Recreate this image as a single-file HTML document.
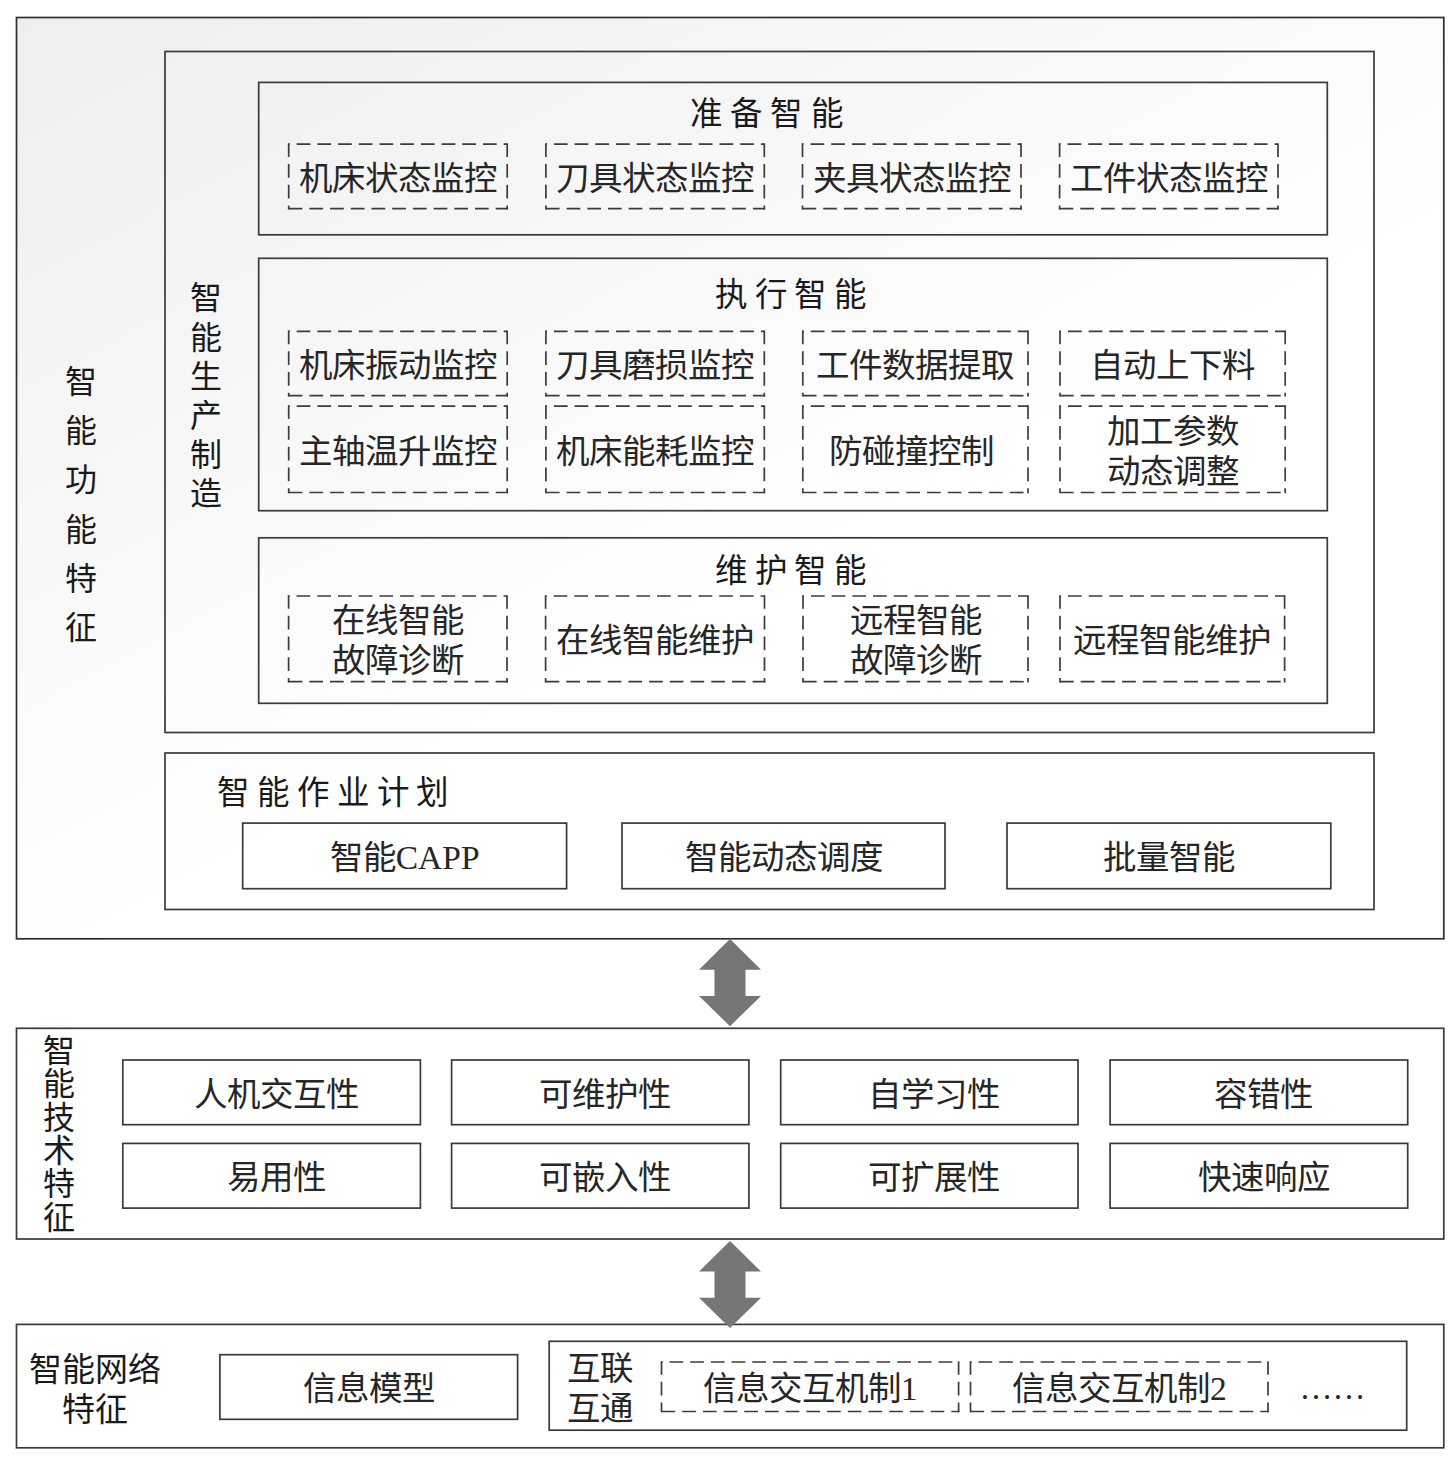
<!DOCTYPE html>
<html lang="zh-CN"><head><meta charset="utf-8"><title>智能功能特征</title>
<style>
html,body{margin:0;padding:0;background:#fff;}
body{width:1456px;height:1460px;position:relative;overflow:hidden;font-family:'Liberation Sans',sans-serif;}
svg{position:absolute;left:0;top:0;}
.t{position:absolute;display:flex;align-items:center;justify-content:center;text-align:center;white-space:nowrap;}
</style></head><body>
<svg width="1456" height="1460" viewBox="0 0 1456 1460">
<defs><linearGradient id="g1" gradientUnits="userSpaceOnUse" x1="17" y1="17" x2="421" y2="776"><stop offset="0" stop-color="#eeeeee"/><stop offset="1" stop-color="#ffffff"/></linearGradient></defs>
<rect x="16.5" y="17.5" width="1427.3" height="921.3" fill="url(#g1)" stroke="#2e2e2e" stroke-width="1.7"/>
<rect x="165" y="51.5" width="1209" height="681.0" fill="none" stroke="#3a3a3a" stroke-width="1.7"/>
<rect x="258.7" y="82.4" width="1068.6" height="152.4" fill="none" stroke="#3a3a3a" stroke-width="1.7"/>
<rect x="258.7" y="258.3" width="1068.6" height="252.4" fill="none" stroke="#3a3a3a" stroke-width="1.7"/>
<rect x="258.7" y="537.8" width="1068.6" height="165.5" fill="none" stroke="#3a3a3a" stroke-width="1.7"/>
<rect x="165" y="753" width="1209" height="156.5" fill="none" stroke="#3a3a3a" stroke-width="1.7"/>
<path d="M288.7 143.35V209.54999999999998M507.2 143.35V209.54999999999998" fill="none" stroke="#3c3c3c" stroke-width="1.7" stroke-dasharray="13.7 7"/>
<path d="M288.7 208.7H508.05" fill="none" stroke="#3c3c3c" stroke-width="1.7" stroke-dasharray="13.7 7"/>
<path d="M288.7 144.2H507.2" fill="none" stroke="#3c3c3c" stroke-width="1.7" stroke-dasharray="13.7 7" stroke-dashoffset="12.7"/>
<path d="M545.9 143.35V209.54999999999998M764.3 143.35V209.54999999999998" fill="none" stroke="#3c3c3c" stroke-width="1.7" stroke-dasharray="13.7 7"/>
<path d="M545.9 208.7H765.15" fill="none" stroke="#3c3c3c" stroke-width="1.7" stroke-dasharray="13.7 7"/>
<path d="M545.9 144.2H764.3" fill="none" stroke="#3c3c3c" stroke-width="1.7" stroke-dasharray="13.7 7" stroke-dashoffset="12.7"/>
<path d="M802.5 143.35V209.54999999999998M1021 143.35V209.54999999999998" fill="none" stroke="#3c3c3c" stroke-width="1.7" stroke-dasharray="13.7 7"/>
<path d="M802.5 208.7H1021.85" fill="none" stroke="#3c3c3c" stroke-width="1.7" stroke-dasharray="13.7 7"/>
<path d="M802.5 144.2H1021" fill="none" stroke="#3c3c3c" stroke-width="1.7" stroke-dasharray="13.7 7" stroke-dashoffset="12.7"/>
<path d="M1059.6 143.35V209.54999999999998M1278 143.35V209.54999999999998" fill="none" stroke="#3c3c3c" stroke-width="1.7" stroke-dasharray="13.7 7"/>
<path d="M1059.6 208.7H1278.85" fill="none" stroke="#3c3c3c" stroke-width="1.7" stroke-dasharray="13.7 7"/>
<path d="M1059.6 144.2H1278" fill="none" stroke="#3c3c3c" stroke-width="1.7" stroke-dasharray="13.7 7" stroke-dashoffset="12.7"/>
<path d="M288.7 330.54999999999995V396.55M507.2 330.54999999999995V396.55" fill="none" stroke="#3c3c3c" stroke-width="1.7" stroke-dasharray="13.7 7"/>
<path d="M288.7 395.7H508.05" fill="none" stroke="#3c3c3c" stroke-width="1.7" stroke-dasharray="13.7 7"/>
<path d="M288.7 331.4H507.2" fill="none" stroke="#3c3c3c" stroke-width="1.7" stroke-dasharray="13.7 7" stroke-dashoffset="12.7"/>
<path d="M545.9 330.54999999999995V396.55M764.3 330.54999999999995V396.55" fill="none" stroke="#3c3c3c" stroke-width="1.7" stroke-dasharray="13.7 7"/>
<path d="M545.9 395.7H765.15" fill="none" stroke="#3c3c3c" stroke-width="1.7" stroke-dasharray="13.7 7"/>
<path d="M545.9 331.4H764.3" fill="none" stroke="#3c3c3c" stroke-width="1.7" stroke-dasharray="13.7 7" stroke-dashoffset="12.7"/>
<path d="M802.8 330.54999999999995V396.55M1028 330.54999999999995V396.55" fill="none" stroke="#3c3c3c" stroke-width="1.7" stroke-dasharray="13.7 7"/>
<path d="M802.8 395.7H1028.85" fill="none" stroke="#3c3c3c" stroke-width="1.7" stroke-dasharray="13.7 7"/>
<path d="M802.8 331.4H1028" fill="none" stroke="#3c3c3c" stroke-width="1.7" stroke-dasharray="13.7 7" stroke-dashoffset="12.7"/>
<path d="M1060 330.54999999999995V396.55M1285.2 330.54999999999995V396.55" fill="none" stroke="#3c3c3c" stroke-width="1.7" stroke-dasharray="13.7 7"/>
<path d="M1060 395.7H1286.05" fill="none" stroke="#3c3c3c" stroke-width="1.7" stroke-dasharray="13.7 7"/>
<path d="M1060 331.4H1285.2" fill="none" stroke="#3c3c3c" stroke-width="1.7" stroke-dasharray="13.7 7" stroke-dashoffset="12.7"/>
<path d="M288.7 405.34999999999997V493.35M507.2 405.34999999999997V493.35" fill="none" stroke="#3c3c3c" stroke-width="1.7" stroke-dasharray="13.7 7"/>
<path d="M288.7 492.5H508.05" fill="none" stroke="#3c3c3c" stroke-width="1.7" stroke-dasharray="13.7 7"/>
<path d="M288.7 406.2H507.2" fill="none" stroke="#3c3c3c" stroke-width="1.7" stroke-dasharray="13.7 7" stroke-dashoffset="12.7"/>
<path d="M545.9 405.34999999999997V493.35M764.3 405.34999999999997V493.35" fill="none" stroke="#3c3c3c" stroke-width="1.7" stroke-dasharray="13.7 7"/>
<path d="M545.9 492.5H765.15" fill="none" stroke="#3c3c3c" stroke-width="1.7" stroke-dasharray="13.7 7"/>
<path d="M545.9 406.2H764.3" fill="none" stroke="#3c3c3c" stroke-width="1.7" stroke-dasharray="13.7 7" stroke-dashoffset="12.7"/>
<path d="M802.8 405.34999999999997V493.35M1028 405.34999999999997V493.35" fill="none" stroke="#3c3c3c" stroke-width="1.7" stroke-dasharray="13.7 7"/>
<path d="M802.8 492.5H1028.85" fill="none" stroke="#3c3c3c" stroke-width="1.7" stroke-dasharray="13.7 7"/>
<path d="M802.8 406.2H1028" fill="none" stroke="#3c3c3c" stroke-width="1.7" stroke-dasharray="13.7 7" stroke-dashoffset="12.7"/>
<path d="M1060 405.34999999999997V493.35M1285.2 405.34999999999997V493.35" fill="none" stroke="#3c3c3c" stroke-width="1.7" stroke-dasharray="13.7 7"/>
<path d="M1060 492.5H1286.05" fill="none" stroke="#3c3c3c" stroke-width="1.7" stroke-dasharray="13.7 7"/>
<path d="M1060 406.2H1285.2" fill="none" stroke="#3c3c3c" stroke-width="1.7" stroke-dasharray="13.7 7" stroke-dashoffset="12.7"/>
<path d="M288.6 595.15V682.5500000000001M507 595.15V682.5500000000001" fill="none" stroke="#3c3c3c" stroke-width="1.7" stroke-dasharray="13.7 7"/>
<path d="M288.6 681.7H507.85" fill="none" stroke="#3c3c3c" stroke-width="1.7" stroke-dasharray="13.7 7"/>
<path d="M288.6 596H507" fill="none" stroke="#3c3c3c" stroke-width="1.7" stroke-dasharray="13.7 7" stroke-dashoffset="12.7"/>
<path d="M545.6 595.15V682.5500000000001M764.5 595.15V682.5500000000001" fill="none" stroke="#3c3c3c" stroke-width="1.7" stroke-dasharray="13.7 7"/>
<path d="M545.6 681.7H765.35" fill="none" stroke="#3c3c3c" stroke-width="1.7" stroke-dasharray="13.7 7"/>
<path d="M545.6 596H764.5" fill="none" stroke="#3c3c3c" stroke-width="1.7" stroke-dasharray="13.7 7" stroke-dashoffset="12.7"/>
<path d="M803 595.15V682.5500000000001M1028 595.15V682.5500000000001" fill="none" stroke="#3c3c3c" stroke-width="1.7" stroke-dasharray="13.7 7"/>
<path d="M803 681.7H1028.85" fill="none" stroke="#3c3c3c" stroke-width="1.7" stroke-dasharray="13.7 7"/>
<path d="M803 596H1028" fill="none" stroke="#3c3c3c" stroke-width="1.7" stroke-dasharray="13.7 7" stroke-dashoffset="12.7"/>
<path d="M1060 595.15V682.5500000000001M1284.6 595.15V682.5500000000001" fill="none" stroke="#3c3c3c" stroke-width="1.7" stroke-dasharray="13.7 7"/>
<path d="M1060 681.7H1285.4499999999998" fill="none" stroke="#3c3c3c" stroke-width="1.7" stroke-dasharray="13.7 7"/>
<path d="M1060 596H1284.6" fill="none" stroke="#3c3c3c" stroke-width="1.7" stroke-dasharray="13.7 7" stroke-dashoffset="12.7"/>
<rect x="242.7" y="823.1" width="323.9" height="65.6" fill="none" stroke="#3a3a3a" stroke-width="1.7"/>
<rect x="622" y="823.1" width="323" height="65.6" fill="none" stroke="#3a3a3a" stroke-width="1.7"/>
<rect x="1007" y="823.1" width="323.8" height="65.6" fill="none" stroke="#3a3a3a" stroke-width="1.7"/>
<rect x="16.5" y="1028.3" width="1427.3" height="210.7" fill="none" stroke="#3a3a3a" stroke-width="1.7"/>
<rect x="122.8" y="1060" width="297.6" height="64.7" fill="none" stroke="#3a3a3a" stroke-width="1.7"/>
<rect x="451.6" y="1060" width="297.3" height="64.7" fill="none" stroke="#3a3a3a" stroke-width="1.7"/>
<rect x="780.7" y="1060" width="297.3" height="64.7" fill="none" stroke="#3a3a3a" stroke-width="1.7"/>
<rect x="1110.1" y="1060" width="297.6" height="64.7" fill="none" stroke="#3a3a3a" stroke-width="1.7"/>
<rect x="122.8" y="1143.4" width="297.6" height="64.7" fill="none" stroke="#3a3a3a" stroke-width="1.7"/>
<rect x="451.6" y="1143.4" width="297.3" height="64.7" fill="none" stroke="#3a3a3a" stroke-width="1.7"/>
<rect x="780.7" y="1143.4" width="297.3" height="64.7" fill="none" stroke="#3a3a3a" stroke-width="1.7"/>
<rect x="1110.1" y="1143.4" width="297.6" height="64.7" fill="none" stroke="#3a3a3a" stroke-width="1.7"/>
<rect x="16.5" y="1324.4" width="1427.3" height="123.4" fill="none" stroke="#3a3a3a" stroke-width="1.7"/>
<rect x="219.9" y="1354.7" width="297.7" height="64.6" fill="none" stroke="#3a3a3a" stroke-width="1.7"/>
<rect x="549.2" y="1341.3" width="857.5" height="88.9" fill="none" stroke="#3a3a3a" stroke-width="1.7"/>
<path d="M661.5 1361.15V1412.35M958.6 1361.15V1412.35" fill="none" stroke="#3c3c3c" stroke-width="1.7" stroke-dasharray="13.7 7"/>
<path d="M661.5 1411.5H959.45" fill="none" stroke="#3c3c3c" stroke-width="1.7" stroke-dasharray="13.7 7"/>
<path d="M661.5 1362H958.6" fill="none" stroke="#3c3c3c" stroke-width="1.7" stroke-dasharray="13.7 7" stroke-dashoffset="12.7"/>
<path d="M970.5 1361.15V1412.35M1268 1361.15V1412.35" fill="none" stroke="#3c3c3c" stroke-width="1.7" stroke-dasharray="13.7 7"/>
<path d="M970.5 1411.5H1268.85" fill="none" stroke="#3c3c3c" stroke-width="1.7" stroke-dasharray="13.7 7"/>
<path d="M970.5 1362H1268" fill="none" stroke="#3c3c3c" stroke-width="1.7" stroke-dasharray="13.7 7" stroke-dashoffset="12.7"/>
<polygon points="730,939 761,969.7 745.5,969.7 745.5,995.9 761,995.9 730,1026.2 699,995.9 714.5,995.9 714.5,969.7 699,969.7" fill="#777577"/>
<polygon points="730,1241 761,1271.6 745.5,1271.6 745.5,1297.7 761,1297.7 730,1328 699,1297.7 714.5,1297.7 714.5,1271.6 699,1271.6" fill="#777577"/>
</svg>
<div class="t" style="left:640.5px;top:92px;width:260px;height:45px;font-size:32.5px;font-family:'Liberation Sans',sans-serif;line-height:34.5px;letter-spacing:7.3px;color:#1a1a1a;font-weight:400;">准备智能</div>
<div class="t" style="left:664.5px;top:273px;width:260px;height:45px;font-size:32.5px;font-family:'Liberation Sans',sans-serif;line-height:34.5px;letter-spacing:6.7px;color:#1a1a1a;font-weight:400;">执行智能</div>
<div class="t" style="left:664.5px;top:549px;width:260px;height:45px;font-size:32.5px;font-family:'Liberation Sans',sans-serif;line-height:34.5px;letter-spacing:6.7px;color:#1a1a1a;font-weight:400;">维护智能</div>
<div class="t" style="left:217px;top:771px;width:250px;height:45px;font-size:32.5px;font-family:'Liberation Sans',sans-serif;line-height:34.5px;letter-spacing:6.9px;color:#1a1a1a;justify-content:flex-start;font-weight:400;">智能作业计划</div>
<div class="t" style="left:50px;top:358px;width:62px;height:295px;font-size:32px;font-family:'Liberation Sans',sans-serif;line-height:49.3px;color:#1a1a1a;font-weight:400;">智<br>能<br>功<br>能<br>特<br>征</div>
<div class="t" style="left:175px;top:277px;width:62px;height:240px;font-size:32px;font-family:'Liberation Sans',sans-serif;line-height:39.2px;color:#1a1a1a;font-weight:400;">智<br>能<br>生<br>产<br>制<br>造</div>
<div class="t" style="left:288.7px;top:146.2px;width:218.5px;height:64.5px;font-size:33.5px;font-family:'Liberation Serif',serif;line-height:35.5px;color:#262626;font-weight:300;">机床状态监控</div>
<div class="t" style="left:545.9px;top:146.2px;width:218.4px;height:64.5px;font-size:33.5px;font-family:'Liberation Serif',serif;line-height:35.5px;color:#262626;font-weight:300;">刀具状态监控</div>
<div class="t" style="left:802.5px;top:146.2px;width:218.5px;height:64.5px;font-size:33.5px;font-family:'Liberation Serif',serif;line-height:35.5px;color:#262626;font-weight:300;">夹具状态监控</div>
<div class="t" style="left:1059.6px;top:146.2px;width:218.4px;height:64.5px;font-size:33.5px;font-family:'Liberation Serif',serif;line-height:35.5px;color:#262626;font-weight:300;">工件状态监控</div>
<div class="t" style="left:288.7px;top:333.4px;width:218.5px;height:64.3px;font-size:33.5px;font-family:'Liberation Serif',serif;line-height:35.5px;color:#262626;font-weight:300;">机床振动监控</div>
<div class="t" style="left:545.9px;top:333.4px;width:218.4px;height:64.3px;font-size:33.5px;font-family:'Liberation Serif',serif;line-height:35.5px;color:#262626;font-weight:300;">刀具磨损监控</div>
<div class="t" style="left:802.8px;top:333.4px;width:225.2px;height:64.3px;font-size:33.5px;font-family:'Liberation Serif',serif;line-height:35.5px;color:#262626;font-weight:300;">工件数据提取</div>
<div class="t" style="left:1060px;top:333.4px;width:225.2px;height:64.3px;font-size:33.5px;font-family:'Liberation Serif',serif;line-height:35.5px;color:#262626;font-weight:300;">自动上下料</div>
<div class="t" style="left:288.7px;top:409.2px;width:218.5px;height:86.3px;font-size:33.5px;font-family:'Liberation Serif',serif;line-height:40.5px;color:#262626;font-weight:300;">主轴温升监控</div>
<div class="t" style="left:545.9px;top:409.2px;width:218.4px;height:86.3px;font-size:33.5px;font-family:'Liberation Serif',serif;line-height:40.5px;color:#262626;font-weight:300;">机床能耗监控</div>
<div class="t" style="left:798.8px;top:409.2px;width:225.2px;height:86.3px;font-size:33.5px;font-family:'Liberation Serif',serif;line-height:40.5px;color:#262626;font-weight:300;">防碰撞控制</div>
<div class="t" style="left:1060px;top:409.2px;width:225.2px;height:86.3px;font-size:33.5px;font-family:'Liberation Serif',serif;line-height:40.5px;color:#262626;font-weight:300;">加工参数<br>动态调整</div>
<div class="t" style="left:288.6px;top:598px;width:218.4px;height:85.7px;font-size:33.5px;font-family:'Liberation Serif',serif;line-height:40px;color:#262626;font-weight:300;">在线智能<br>故障诊断</div>
<div class="t" style="left:545.6px;top:598px;width:218.9px;height:85.7px;font-size:33.5px;font-family:'Liberation Serif',serif;line-height:40px;color:#262626;font-weight:300;">在线智能维护</div>
<div class="t" style="left:803px;top:598px;width:225px;height:85.7px;font-size:33.5px;font-family:'Liberation Serif',serif;line-height:40px;color:#262626;font-weight:300;">远程智能<br>故障诊断</div>
<div class="t" style="left:1060px;top:598px;width:224.6px;height:85.7px;font-size:33.5px;font-family:'Liberation Serif',serif;line-height:40px;color:#262626;font-weight:300;">远程智能维护</div>
<div class="t" style="left:242.7px;top:825.1px;width:323.9px;height:65.6px;font-size:33.5px;font-family:'Liberation Serif',serif;line-height:35.5px;color:#262626;font-weight:300;">智能CAPP</div>
<div class="t" style="left:622px;top:825.1px;width:323px;height:65.6px;font-size:33.5px;font-family:'Liberation Serif',serif;line-height:35.5px;color:#262626;font-weight:300;">智能动态调度</div>
<div class="t" style="left:1007px;top:825.1px;width:323.8px;height:65.6px;font-size:33.5px;font-family:'Liberation Serif',serif;line-height:35.5px;color:#262626;font-weight:300;">批量智能</div>
<div class="t" style="left:28px;top:1032px;width:62px;height:206px;font-size:32px;font-family:'Liberation Sans',sans-serif;line-height:33.4px;color:#1a1a1a;font-weight:400;">智<br>能<br>技<br>术<br>特<br>征</div>
<div class="t" style="left:127.8px;top:1062px;width:297.6px;height:64.7px;font-size:33.5px;font-family:'Liberation Serif',serif;line-height:35.5px;color:#262626;font-weight:300;">人机交互性</div>
<div class="t" style="left:456.6px;top:1062px;width:297.3px;height:64.7px;font-size:33.5px;font-family:'Liberation Serif',serif;line-height:35.5px;color:#262626;font-weight:300;">可维护性</div>
<div class="t" style="left:785.7px;top:1062px;width:297.3px;height:64.7px;font-size:33.5px;font-family:'Liberation Serif',serif;line-height:35.5px;color:#262626;font-weight:300;">自学习性</div>
<div class="t" style="left:1115.1px;top:1062px;width:297.6px;height:64.7px;font-size:33.5px;font-family:'Liberation Serif',serif;line-height:35.5px;color:#262626;font-weight:300;">容错性</div>
<div class="t" style="left:127.8px;top:1145.4px;width:297.6px;height:64.7px;font-size:33.5px;font-family:'Liberation Serif',serif;line-height:35.5px;color:#262626;font-weight:300;">易用性</div>
<div class="t" style="left:456.6px;top:1145.4px;width:297.3px;height:64.7px;font-size:33.5px;font-family:'Liberation Serif',serif;line-height:35.5px;color:#262626;font-weight:300;">可嵌入性</div>
<div class="t" style="left:785.7px;top:1145.4px;width:297.3px;height:64.7px;font-size:33.5px;font-family:'Liberation Serif',serif;line-height:35.5px;color:#262626;font-weight:300;">可扩展性</div>
<div class="t" style="left:1115.1px;top:1145.4px;width:297.6px;height:64.7px;font-size:33.5px;font-family:'Liberation Serif',serif;line-height:35.5px;color:#262626;font-weight:300;">快速响应</div>
<div class="t" style="left:20px;top:1347px;width:150px;height:85px;font-size:33px;font-family:'Liberation Sans',sans-serif;line-height:39.5px;color:#1a1a1a;font-weight:400;">智能网络<br>特征</div>
<div class="t" style="left:219.9px;top:1356.7px;width:297.7px;height:64.6px;font-size:33.5px;font-family:'Liberation Serif',serif;line-height:35.5px;color:#262626;font-weight:300;">信息模型</div>
<div class="t" style="left:560px;top:1347px;width:80px;height:83px;font-size:33.5px;font-family:'Liberation Serif',serif;line-height:40px;color:#262626;font-weight:300;">互联<br>互通</div>
<div class="t" style="left:661.5px;top:1364px;width:297.1px;height:49.5px;font-size:33.5px;font-family:'Liberation Serif',serif;line-height:35.5px;color:#262626;font-weight:300;">信息交互机制1</div>
<div class="t" style="left:970.5px;top:1364px;width:297.5px;height:49.5px;font-size:33.5px;font-family:'Liberation Serif',serif;line-height:35.5px;color:#262626;font-weight:300;">信息交互机制2</div>
<div class="t" style="left:1290px;top:1364px;width:85px;height:49.5px;font-size:33px;font-family:'Liberation Serif',serif;line-height:35px;color:#262626;font-weight:300;">……</div>
</body></html>
